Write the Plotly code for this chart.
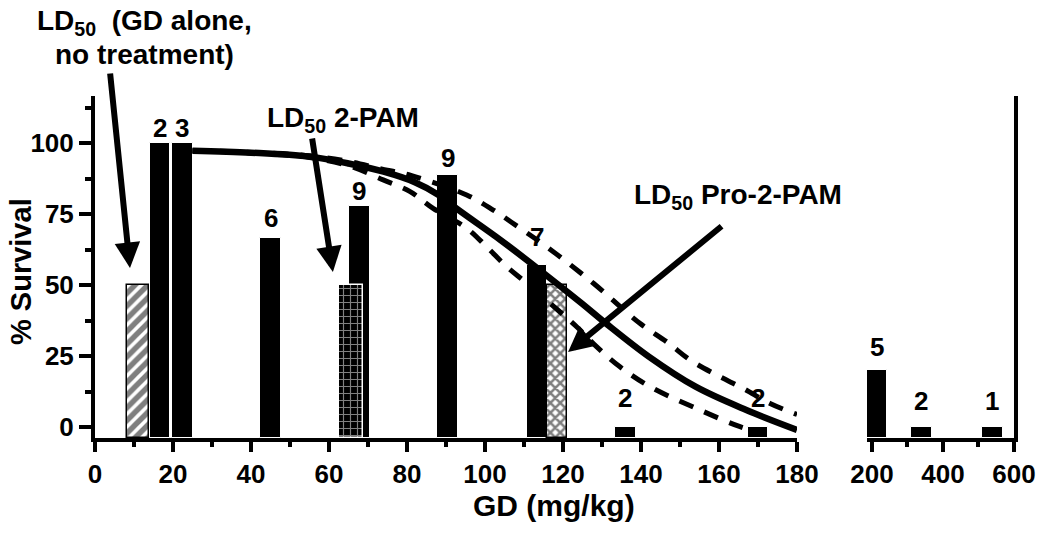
import plotly.graph_objects as go

# ---------------- data ----------------
# dose groups (GD, mg/kg) on the linear 0-180 segment
dose_x = [16.7, 22.4, 45.0, 67.8, 90.4, 113.3, 136.0, 170.0]
dose_surv = [100, 100, 66.7, 77.8, 88.9, 57.1, 0, 0]
dose_n = ["2", "3", "6", "9", "9", "7", "2", "2"]
# dose groups on the 200-600 segment
high_x = [213, 339, 539]
high_surv = [20, 0, 0]
high_n = ["5", "2", "1"]
# LD50 bars: GD alone, 2-PAM, Pro-2-PAM
ld50_x = [11.0, 65.6, 118.5]
ld50_surv = [50, 50, 50]
# fitted curve and 95% confidence bands
fit_x = [25, 40, 55, 65, 74, 82, 88, 93, 104, 114, 125, 131, 142, 154, 167, 180]
fit_y = [97.3, 96.6, 95.2, 92.8, 89.9, 86.2, 81.8, 76.6, 65.8, 55.3, 43.3, 36.5, 24.8, 14.2, 6.0, -1.0]
ci_hi_x = [25, 40, 55, 65, 73, 81, 95.3, 102.1, 109, 115.8, 127.8, 139.7, 146.6, 152.6, 159.4, 166.2, 173.1, 180]
ci_hi_y = [97.3, 96.7, 95.5, 93.5, 91.0, 88.6, 81.7, 76.4, 70.0, 63.5, 50.6, 36.5, 30.0, 23.6, 18.3, 13.6, 8.3, 4.4]
ci_lo_x = [25, 40, 55, 65, 73.9, 80.8, 86.7, 95.3, 100.4, 105.6, 110.7, 123.5, 128.6, 134.6, 142.3, 155.1, 165.4, 172]
ci_lo_y = [97.3, 96.5, 94.9, 92.0, 87.0, 82.9, 77.0, 70.0, 63.5, 56.4, 50.6, 35.3, 28.3, 21.2, 14.2, 6.0, 0.1, -2.5]

# ---------------- layout geometry (reference pixels) ----------------
W, H = 1050, 536
L, R, T, B = 95, 1014, 96, 438
YMIN, YMAX = -3.87, 116.55
FONT = "Arial, Liberation Sans, sans-serif"


def pxx(p):
    """picture x pixel -> paper x"""
    return (p - L) / (R - L)


def pxy(p):
    """picture y pixel -> paper y"""
    return (B - p) / (B - T)


fig = go.Figure()

# black bars, linear segment
fig.add_trace(go.Bar(
    x=dose_x, y=[v - YMIN for v in dose_surv], base=YMIN, width=5.3,
    marker=dict(color="black", line=dict(color="white", width=1)),
    xaxis="x", yaxis="y", showlegend=False))
# black bars, high-dose segment
fig.add_trace(go.Bar(
    x=high_x, y=[v - YMIN for v in high_surv], base=YMIN, width=59,
    marker=dict(color="black", line=dict(color="white", width=1)),
    xaxis="x2", yaxis="y2", showlegend=False))

# LD50 patterned bars
patterns = [
    dict(shape="/", fgcolor="black", bgcolor="white", size=9, solidity=0.6),
    dict(shape="+", fgcolor="white", bgcolor="black", size=7, solidity=0.3),
    dict(shape="x", fgcolor="black", bgcolor="white", size=7, solidity=0.6),
]
widths = [5.6, 6.0, 5.2]
lines = ["black", "white", "black"]
for xv, sv, pat, wd, lc in zip(ld50_x, ld50_surv, patterns, widths, lines):
    fig.add_trace(go.Bar(
        x=[xv], y=[sv - YMIN], base=YMIN, width=wd,
        marker=dict(color=pat["bgcolor"], pattern=pat, line=dict(color=lc, width=1.5)),
        xaxis="x", yaxis="y", showlegend=False))

# curves
fig.add_trace(go.Scatter(x=ci_hi_x, y=ci_hi_y, mode="lines", line_shape="spline",
                         line=dict(color="black", width=5, dash="15px,12px"),
                         showlegend=False))
fig.add_trace(go.Scatter(x=ci_lo_x, y=ci_lo_y, mode="lines", line_shape="spline",
                         line=dict(color="black", width=5, dash="15px,12px"),
                         showlegend=False))
fig.add_trace(go.Scatter(x=fit_x, y=fit_y, mode="lines", line_shape="spline",
                         line=dict(color="black", width=6.5), showlegend=False))

annotations = []
# n labels above bars
shifts = [15, 15, 20, 15, 17, 28, 29, 29]
for xv, sv, n, s in zip(dose_x, dose_surv, dose_n, shifts):
    annotations.append(dict(x=xv, y=sv, xref="x", yref="y", text=n, showarrow=False,
                            yanchor="middle", yshift=s,
                            font=dict(family=FONT, size=26, color="black", weight="bold")))
for xv, sv, n, s in zip(high_x, high_surv, high_n, [23, 26, 26]):
    annotations.append(dict(x=xv, y=sv, xref="x2", yref="y2", text=n, showarrow=False,
                            yanchor="middle", yshift=s,
                            font=dict(family=FONT, size=26, color="black", weight="bold")))

tfont = dict(family=FONT, size=28, color="black", weight="bold")
annotations += [
    dict(x=pxx(144), y=pxy(22), xref="paper", yref="paper", showarrow=False,
         text="LD<sub>50</sub>&nbsp; (GD alone,", font=tfont, xanchor="center", yanchor="middle"),
    dict(x=pxx(144), y=pxy(55), xref="paper", yref="paper", showarrow=False,
         text="no treatment)", font=tfont, xanchor="center", yanchor="middle"),
    dict(x=pxx(343), y=pxy(119), xref="paper", yref="paper", showarrow=False,
         text="LD<sub>50</sub> 2-PAM", font=tfont, xanchor="center", yanchor="middle"),
    dict(x=pxx(738), y=pxy(196), xref="paper", yref="paper", showarrow=False,
         text="LD<sub>50</sub> Pro-2-PAM", font=tfont, xanchor="center", yanchor="middle"),
    # axis titles
    dict(x=pxx(21), y=pxy(272), xref="paper", yref="paper", showarrow=False,
         text="% Survival", textangle=-90, xanchor="center", yanchor="middle",
         font=dict(family=FONT, size=29, color="black", weight="bold")),
    dict(x=pxx(554), y=pxy(505), xref="paper", yref="paper", showarrow=False,
         text="GD (mg/kg)", xanchor="center", yanchor="middle",
         font=dict(family=FONT, size=30, color="black", weight="bold")),
]

# arrows (tip in data units, tail offset in pixels)
for (tx, ty, ax, ay) in [(8.97, 56.0, -20, -196), (61.0, 54.6, -21, -135), (121.3, 26.4, 155, -127)]:
    annotations.append(dict(x=tx, y=ty, xref="x", yref="y", ax=ax, ay=ay, text="",
                            showarrow=True, arrowhead=2, arrowsize=0.85, arrowwidth=6,
                            arrowcolor="black", standoff=0))

tickfont = dict(family=FONT, size=26, color="black", weight="bold")
fig.update_layout(
    width=W, height=H,
    margin=dict(l=L, r=W - R, t=T, b=H - B, pad=0),
    paper_bgcolor="white", plot_bgcolor="white",
    barmode="overlay", bargap=0,
    annotations=annotations,
    xaxis=dict(domain=[0, pxx(797)], range=[0, 180], anchor="y",
               tickmode="linear", tick0=0, dtick=20,
               ticks="outside", ticklen=10, tickwidth=3.5, tickcolor="black",
               showline=True, linewidth=4, linecolor="black",
               showgrid=False, zeroline=False, tickfont=tickfont,
               minor=dict(dtick=10, ticks="outside", ticklen=5, tickwidth=3.5, tickcolor="black")),
    xaxis2=dict(domain=[pxx(867), 1], range=[186, 600], anchor="y2",
                tickvals=[200, 400, 600],
                ticks="outside", ticklen=10, tickwidth=3.5, tickcolor="black",
                showline=True, linewidth=4, linecolor="black",
                showgrid=False, zeroline=False, tickfont=tickfont,
                minor=dict(tickvals=[300, 500], ticks="outside", ticklen=5, tickwidth=3.5,
                           tickcolor="black")),
    yaxis=dict(domain=[0, 1], range=[YMIN, YMAX], anchor="x",
               tickmode="linear", tick0=0, dtick=25,
               ticks="outside", ticklen=12, tickwidth=3.5, tickcolor="black",
               showline=True, linewidth=4, linecolor="black",
               showgrid=False, zeroline=False, tickfont=tickfont,
               minor=dict(dtick=12.5, ticks="outside", ticklen=6, tickwidth=3.5, tickcolor="black")),
    yaxis2=dict(domain=[0, 1], range=[YMIN, YMAX], anchor="x2", side="right",
                showticklabels=False, ticks="",
                showline=True, linewidth=4, linecolor="black",
                showgrid=False, zeroline=False),
)

# remove the browser's default 8px body margin so the figure sits at the page origin
fig.write_html("out.html", config={"displayModeBar": False},
               post_script="document.body.style.margin='0';")
